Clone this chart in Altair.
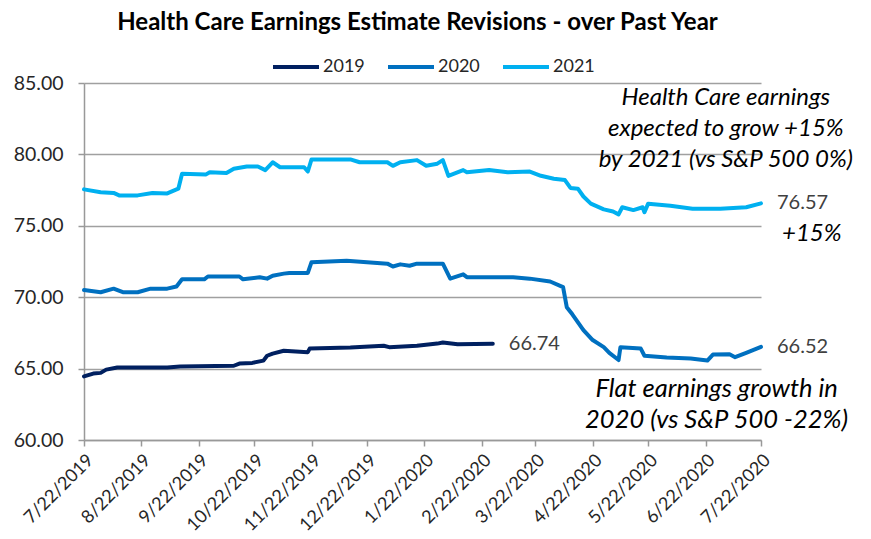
import altair as alt
import pandas as pd

# ---------------- data ----------------
series_names = ["2019", "2020", "2021"]
series_colors = ["#002060", "#0070C0", "#00B0F0"]

dates_2019 = ["2019-07-22", "2019-07-27", "2019-07-31", "2019-08-03", "2019-08-09", "2019-09-05",
              "2019-09-12", "2019-10-11", "2019-10-14", "2019-10-21", "2019-10-27", "2019-10-29",
              "2019-11-01", "2019-11-07", "2019-11-20", "2019-11-21", "2019-12-13", "2019-12-31",
              "2020-01-03", "2020-01-18", "2020-01-29", "2020-02-01", "2020-02-09", "2020-02-28"]
vals_2019 = [64.45, 64.65, 64.70, 64.93, 65.08, 65.08,
             65.15, 65.20, 65.35, 65.40, 65.56, 65.90,
             66.05, 66.25, 66.15, 66.40, 66.47, 66.60,
             66.50, 66.60, 66.75, 66.83, 66.70, 66.74]

dates_2020 = ["2019-07-22", "2019-07-31", "2019-08-07", "2019-08-12", "2019-08-20", "2019-08-27",
              "2019-09-05", "2019-09-10", "2019-09-13", "2019-09-25", "2019-09-27", "2019-10-14",
              "2019-10-16", "2019-10-25", "2019-10-29", "2019-11-01", "2019-11-07", "2019-11-10",
              "2019-11-20", "2019-11-22", "2019-12-11", "2019-12-22", "2020-01-02", "2020-01-05",
              "2020-01-09", "2020-01-14", "2020-01-18", "2020-02-01", "2020-02-05", "2020-02-12",
              "2020-02-14", "2020-03-10", "2020-03-19", "2020-03-30", "2020-04-06", "2020-04-08",
              "2020-04-11", "2020-04-17", "2020-04-22", "2020-04-28", "2020-05-01", "2020-05-06",
              "2020-05-07", "2020-05-18", "2020-05-20", "2020-06-01", "2020-06-14", "2020-06-23",
              "2020-06-26", "2020-07-05", "2020-07-08", "2020-07-14", "2020-07-22"]
vals_2020 = [70.50, 70.35, 70.60, 70.35, 70.35, 70.60,
             70.60, 70.75, 71.25, 71.25, 71.45, 71.45,
             71.25, 71.40, 71.30, 71.50, 71.65, 71.70,
             71.70, 72.45, 72.55, 72.45, 72.35, 72.15,
             72.30, 72.20, 72.35, 72.35, 71.30, 71.60,
             71.40, 71.40, 71.30, 71.10, 70.70, 69.30,
             68.80, 67.70, 67.00, 66.50, 66.10, 65.60,
             66.50, 66.40, 65.90, 65.77, 65.70, 65.56,
             65.98, 66.00, 65.80, 66.10, 66.52]

dates_2021 = ["2019-07-22", "2019-07-31", "2019-08-07", "2019-08-10", "2019-08-20", "2019-08-28",
              "2019-09-05", "2019-09-11", "2019-09-13", "2019-09-26", "2019-09-28", "2019-10-07",
              "2019-10-11", "2019-10-18", "2019-10-24", "2019-10-28", "2019-11-01", "2019-11-05",
              "2019-11-18", "2019-11-20", "2019-11-22", "2019-12-13", "2019-12-18", "2020-01-02",
              "2020-01-05", "2020-01-09", "2020-01-18", "2020-01-23", "2020-01-29", "2020-02-01",
              "2020-02-04", "2020-02-12", "2020-02-14", "2020-02-26", "2020-03-07", "2020-03-19",
              "2020-03-25", "2020-04-01", "2020-04-07", "2020-04-10", "2020-04-14", "2020-04-17",
              "2020-04-21", "2020-04-28", "2020-05-03", "2020-05-06", "2020-05-08", "2020-05-14",
              "2020-05-19", "2020-05-20", "2020-05-22", "2020-06-03", "2020-06-15", "2020-06-30",
              "2020-07-14", "2020-07-22"]
vals_2021 = [77.55, 77.35, 77.30, 77.13, 77.13, 77.30,
             77.27, 77.60, 78.65, 78.60, 78.75, 78.70,
             79.00, 79.15, 79.15, 78.90, 79.45, 79.10,
             79.10, 78.80, 79.65, 79.65, 79.45, 79.45,
             79.20, 79.45, 79.60, 79.20, 79.35, 79.60,
             78.50, 78.90, 78.75, 78.90, 78.75, 78.80,
             78.50, 78.30, 78.20, 77.65, 77.60, 77.05,
             76.55, 76.15, 76.00, 75.80, 76.30, 76.10,
             76.30, 75.95, 76.55, 76.40, 76.20, 76.20,
             76.30, 76.57]

tick_dates = [(2019, 7), (2019, 8), (2019, 9), (2019, 10), (2019, 11), (2019, 12),
              (2020, 1), (2020, 2), (2020, 3), (2020, 4), (2020, 5), (2020, 6), (2020, 7)]
y_ticks = [60, 65, 70, 75, 80, 85]

title_text = "Health Care Earnings Estimate Revisions - over Past Year"
note_2021 = "Health Care earnings\nexpected to grow +15%\nby 2021 (vs S&P 500 0%)"
note_2020 = "Flat earnings growth in\n2020 (vs S&P 500 -22%)"
note_plus = "+15%"

# ---------------- tables ----------------
rows = []
for name, ds, vs in [("2019", dates_2019, vals_2019), ("2020", dates_2020, vals_2020),
                     ("2021", dates_2021, vals_2021)]:
    for d, v in zip(ds, vs):
        rows.append({"date": d + "T00:00:00", "value": v, "series": name})
df = pd.DataFrame(rows)
last = df.groupby("series", as_index=False).tail(1).reset_index(drop=True)

notes = pd.DataFrame([
    {"text": note_2021, "date": "2020-07-03T00:00:00", "value": 83.92, "size": 24},
    {"text": note_2020, "date": "2020-06-28T00:00:00", "value": 63.60, "size": 25.5},
])
plus = pd.DataFrame([{"text": note_plus, "date": dates_2021[-1] + "T00:00:00", "value": 74.46}])

FONT = "Lato"
AXIS_GRAY = "#999999"
LABEL = "#262626"

x_enc = alt.X(
    "date:T",
    scale=alt.Scale(domain=[alt.DateTime(year=2019, month=7, date=22),
                            alt.DateTime(year=2020, month=7, date=22)], nice=False),
    axis=alt.Axis(
        title=None,
        values=[alt.DateTime(year=y, month=m, date=22) for y, m in tick_dates],
        format="%-m/%-d/%Y",
        labelAngle=315,
        labelAlign="right",
        labelBaseline="top",
        labelFontSize=18,
        labelFont=FONT,
        labelColor=LABEL,
        labelPadding=5,
        labelOverlap=False,
        labelFlush=False,
        tickSize=6,
        tickColor=AXIS_GRAY,
        tickWidth=1.5,
        domainColor=AXIS_GRAY,
        domainWidth=1.5,
        grid=False,
    ),
)
y_enc = alt.Y(
    "value:Q",
    scale=alt.Scale(domain=[60, 85], nice=False, zero=False),
    axis=alt.Axis(
        title=None,
        values=y_ticks,
        format=".2f",
        labelFontSize=19.5,
        labelFont=FONT,
        labelColor=LABEL,
        labelPadding=15,
        tickSize=6,
        tickColor=AXIS_GRAY,
        tickWidth=1.5,
        domainColor=AXIS_GRAY,
        domainWidth=1.5,
        grid=True,
        gridColor="#a0a0a0",
        gridWidth=1.5,
    ),
)

lines = alt.Chart(df).mark_line(strokeWidth=4, strokeJoin="round", strokeCap="round").encode(
    x=x_enc,
    y=y_enc,
    color=alt.Color(
        "series:N",
        scale=alt.Scale(domain=series_names, range=series_colors),
        legend=alt.Legend(
            title=None,
            orient="none",
            legendX=187,
            legendY=-41,
            direction="horizontal",
            symbolType="stroke",
            symbolSize=2116,
            symbolStrokeWidth=4,
            labelFontSize=18,
            labelFont=FONT,
            labelColor=LABEL,
            labelOffset=2,
            columnPadding=15,
            padding=0,
        ),
    ),
)

value_labels = alt.Chart(last).mark_text(
    align="left", baseline="middle", dx=16, fontSize=20, font=FONT, color="#404040"
).encode(
    x="date:T",
    y="value:Q",
    text=alt.Text("value:Q", format=".2f"),
)

note_text = alt.Chart(notes).mark_text(
    align="center", baseline="middle", lineBreak="\n", lineHeight=31,
    font=FONT, fontStyle="italic", color="#000000"
).encode(
    x="date:T",
    y="value:Q",
    text="text:N",
    size=alt.Size("size:Q", scale=None, legend=None),
)

plus_text = alt.Chart(plus).mark_text(
    align="left", baseline="middle", dx=21,
    fontSize=24, font=FONT, fontStyle="italic", color="#000000"
).encode(x="date:T", y="value:Q", text="text:N")

chart = alt.layer(lines, value_labels, note_text, plus_text).properties(
    width=677,
    height=357,
    autosize=alt.AutoSizeParams(type="none"),
    padding={"left": 76, "top": 75, "right": 94, "bottom": 91},
    title=alt.Title(
        title_text,
        font=FONT,
        fontSize=24,
        fontWeight="bold",
        color="#000000",
        anchor="middle",
        offset=7,
        dx=-5,
    ),
).configure_view(stroke=None)

chart.save("out.html", embed_options={"renderer": "svg", "actions": False})
